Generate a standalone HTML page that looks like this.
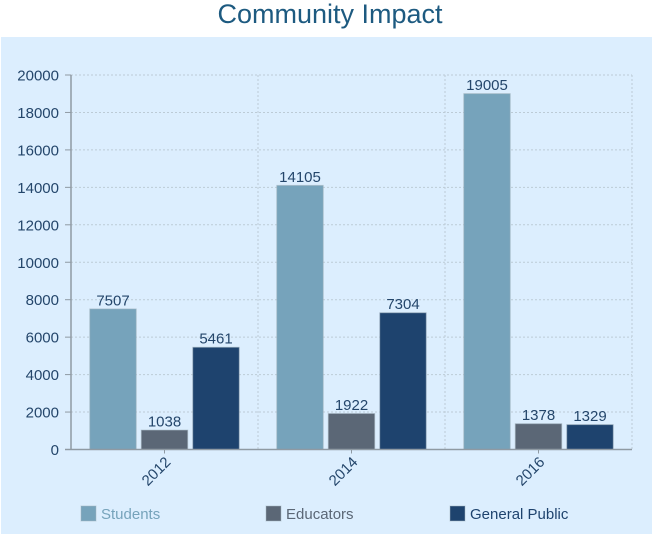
<!DOCTYPE html>
<html lang="en">
<head>
<meta charset="utf-8">
<title>Community Impact</title>
<style>
html,body{margin:0;padding:0;background:#fff;}
body{width:653px;height:536px;overflow:hidden;}
svg{display:block;}
text{font-family:"Liberation Sans",sans-serif;}
</style>
</head>
<body>
<svg id="chart" width="653" height="536" viewBox="0 0 653 536" xmlns="http://www.w3.org/2000/svg"></svg>
<script>
const categories = ['2012', '2014', '2016'];
const students = [7507, 14105, 19005];
const educators = [1038, 1922, 1378];
const generalPublic = [5461, 7304, 1329];
const yTicks = [0, 2000, 4000, 6000, 8000, 10000, 12000, 14000, 16000, 18000, 20000];
const seriesNames = ['Students', 'Educators', 'General Public'];
const seriesColors = ['#76a3bb', '#5b6776', '#1e436e'];
const seriesValues = [students, educators, generalPublic];

const svg = document.getElementById('chart');
const NS = 'http://www.w3.org/2000/svg';
const plot = {left: 71, right: 632, top: 75, bottom: 449.5};
const yMax = 20000;
const barWidth = 46.5;
const barStep = 51.5;

function yScale(v) {
  return plot.bottom - (v / yMax) * (plot.bottom - plot.top);
}
function xBand(i) {
  return plot.left + (i + 0.5) * (plot.right - plot.left) / categories.length;
}
function xEdge(i) {
  return plot.left + i * (plot.right - plot.left) / categories.length;
}
function make(tag, attrs, text) {
  const el = document.createElementNS(NS, tag);
  for (const k in attrs) el.setAttribute(k, attrs[k]);
  if (text !== undefined) el.textContent = text;
  svg.appendChild(el);
  return el;
}

let el = make('rect', {x: 1, y: 37, width: 651, height: 497, fill: '#dceefe'});



el = make('text', {x: 330, y: 23, 'text-anchor': 'middle', 'font-size': 27, fill: '#1d5a80'}, 'Community Impact');



yTicks.forEach(function (t) {
  const y = yScale(t);
  if (t > 0) {
    const g = make('line', {x1: plot.left, x2: plot.right, y1: y, y2: y, stroke: '#bccbd6', 'stroke-width': 1, 'stroke-dasharray': '2 2'});
    
    
  }
  const m = make('line', {x1: 65, x2: plot.left, y1: y, y2: y, stroke: '#8f9aa3', 'stroke-width': 1});
  
  
  const l = make('text', {x: 59, y: y + 5.5, 'text-anchor': 'end', 'font-size': 15, fill: '#24466b'}, String(t));
  
  
});

for (let i = 1; i <= categories.length; i++) {
  const x = xEdge(i);
  const g = make('line', {x1: x, x2: x, y1: plot.top, y2: plot.bottom, stroke: '#bccbd6', 'stroke-width': 1, 'stroke-dasharray': '2 2'});
  
  
}

seriesValues.forEach(function (values, s) {
  values.forEach(function (v, i) {
    const x = xBand(i) + (s - 1) * barStep - barWidth / 2;
    const y = yScale(v);
    const b = make('rect', {x: x, y: y, width: barWidth, height: plot.bottom - y, fill: seriesColors[s], stroke: '#a4b4c0', 'stroke-opacity': 0.55, 'stroke-width': 1});
    
    
    const t = make('text', {x: x + barWidth / 2, y: y - 3.5, 'text-anchor': 'middle', 'font-size': 15, fill: '#24466b'}, String(v));
    
    
  });
});

el = make('line', {x1: plot.left, x2: plot.left, y1: plot.top, y2: plot.bottom, stroke: '#8f9aa3', 'stroke-width': 1.5});



el = make('line', {x1: 65, x2: plot.right, y1: plot.bottom, y2: plot.bottom, stroke: '#8f9aa3', 'stroke-width': 1.5});



categories.forEach(function (c, i) {
  const x = xBand(i);
  const m = make('line', {x1: x, x2: x, y1: plot.bottom, y2: plot.bottom + 4, stroke: '#8f9aa3', 'stroke-width': 1});
  
  
  const l = make('text', {x: x + 7, y: 463, 'text-anchor': 'end', 'font-size': 15, fill: '#24466b', transform: 'rotate(-45 ' + (x + 7) + ' 463)'}, c);
  
  
});

const legendSwatchX = [81, 266, 450];
const legendTextColors = ['#76a3bb', '#5b6776', '#1e436e'];
seriesNames.forEach(function (n, i) {
  const sw = make('rect', {x: legendSwatchX[i], y: 506, width: 15, height: 15, fill: seriesColors[i], stroke: '#a4b4c0', 'stroke-opacity': 0.5, 'stroke-width': 1});
  
  
  const t = make('text', {x: legendSwatchX[i] + 20, y: 519, 'font-size': 15, fill: legendTextColors[i]}, n);
  
  
});
</script>
</body>
</html>
